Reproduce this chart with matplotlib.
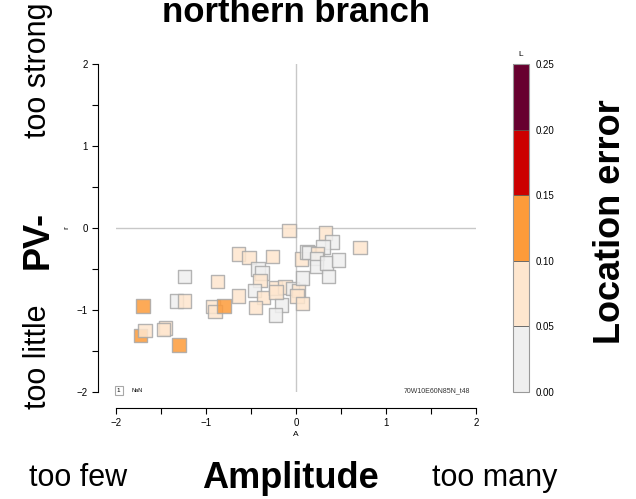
import numpy as np
import matplotlib.pyplot as plt
from matplotlib.colors import ListedColormap, BoundaryNorm
from matplotlib.cm import ScalarMappable
from matplotlib.ticker import MultipleLocator

plt.rcParams["font.family"] = ["Liberation Sans", "DejaVu Sans"]

# Data
amplitude = [
    -1.70, -1.73, -1.68, -1.45, -1.47, -1.30, -1.24, -1.33, -1.24, -0.87,
    -0.92, -0.90, -0.80, -0.64, -0.52, -0.26, -0.42, -0.38, -0.40, -0.46,
    -0.36, -0.64, -0.45, -0.16, -0.23, -0.23, -0.12, -0.22, -0.04, 0.03,
    0.01, 0.07, 0.07, 0.06, -0.08, 0.12, 0.33, 0.40, 0.30, 0.14,
    0.24, 0.23, 0.23, 0.34, 0.47, 0.36, 0.71,
]
pv = [
    -0.95, -1.31, -1.25, -1.22, -1.24, -1.43, -0.59, -0.89, -0.89, -0.65,
    -0.96, -1.02, -0.95, -0.32, -0.36, -0.35, -0.50, -0.55, -0.64, -0.76,
    -0.85, -0.83, -0.97, -0.94, -1.06, -0.73, -0.72, -0.78, -0.74, -0.76,
    -0.83, -0.92, -0.61, -0.38, -0.03, -0.29, -0.06, -0.17, -0.23, -0.30,
    -0.31, -0.37, -0.47, -0.43, -0.39, -0.59, -0.24,
]
location_error = [
    0.12, 0.12, 0.07, 0.07, 0.07, 0.12, 0.03, 0.03, 0.07, 0.07,
    0.07, 0.07, 0.12, 0.07, 0.07, 0.07, 0.03, 0.03, 0.07, 0.03,
    0.07, 0.07, 0.07, 0.03, 0.03, 0.07, 0.07, 0.07, 0.03, 0.07,
    0.07, 0.07, 0.03, 0.07, 0.07, 0.03, 0.07, 0.03, 0.03, 0.03,
    0.07, 0.03, 0.03, 0.03, 0.03, 0.03, 0.07,
]
bounds = [0.0, 0.05, 0.10, 0.15, 0.20, 0.25]
class_colors = ["#efefef", "#fee6ce", "#fd9b3a", "#cc0000", "#67002f"]

cmap = ListedColormap(class_colors)
norm = BoundaryNorm(bounds, cmap.N)

fig = plt.figure(figsize=(6.36, 4.99), dpi=100)
W, H = 636, 499
ax = fig.add_axes([116 / W, 1 - 392 / H, 360 / W, 328 / H])

# crosshair
ax.plot([-2, 2], [0, 0], color="#c8c8c8", lw=1, zorder=1)
ax.plot([0, 0], [-2, 2], color="#c8c8c8", lw=1, zorder=1)

ax.scatter(amplitude, pv, c=location_error, cmap=cmap, norm=norm, marker="s",
           s=95, edgecolors="#a8a8a8", linewidths=1, alpha=0.85, zorder=3)

ax.set_xlim(-2, 2)
ax.set_ylim(-2, 2)
for s in ["top", "right"]:
    ax.spines[s].set_visible(False)
ax.spines["left"].set_position(("outward", 13))
ax.spines["bottom"].set_position(("outward", 11.5))
ax.spines["left"].set_bounds(-2, 2)
ax.spines["bottom"].set_bounds(-2, 2)
for axis in [ax.xaxis, ax.yaxis]:
    axis.set_major_locator(MultipleLocator(1))
    axis.set_minor_locator(MultipleLocator(0.5))
ax.tick_params(which="both", direction="out", length=4, width=0.8, labelsize=7)
ax.set_xticks([-2, -1, 0, 1, 2])
ax.set_xticklabels(["\u22122", "\u22121", "0", "1", "2"])
ax.set_yticks([-2, -1, 0, 1, 2])
ax.set_yticklabels(["\u22122", "\u22121", "0", "1", "2"])
ax.set_xlabel("A", fontsize=6, labelpad=2)
ax.set_ylabel("r", fontsize=6, labelpad=4)

# NaN legend box and run tag
ax.text(-1.99, -1.98, "1", fontsize=4.5, ha="left", va="center",
        bbox=dict(boxstyle="square,pad=0.35", fc="white", ec="#a8a8a8", lw=0.8))
ax.text(-1.83, -1.98, "NaN", fontsize=4, ha="left", va="center")
ax.text(1.93, -1.98, "70W10E60N85N_t48", fontsize=5, ha="right", va="center",
        color="#333333")

# colorbar
cax = fig.add_axes([513 / W, 1 - 392 / H, 16 / W, 328 / H])
cb = fig.colorbar(ScalarMappable(norm=norm, cmap=cmap), cax=cax,
                  ticks=bounds, drawedges=True)
cb.outline.set_edgecolor("#999999")
cb.outline.set_linewidth(0.8)
cb.dividers.set_color("#555555")
cb.dividers.set_linewidth(0.6)
cax.tick_params(length=0, labelsize=7, pad=5)
cax.set_yticklabels(["0.00", "0.05", "0.10", "0.15", "0.20", "0.25"])
fig.text(521 / W, 1 - 55 / H, "L", fontsize=6, ha="center", va="center")

# big annotations
fig.text(296 / W, 1 - 12 / H, "northern branch", fontsize=25, fontweight="bold",
         ha="center", va="center")
fig.text(38 / W, 1 - 70 / H, "too strong", fontsize=22, rotation=90,
         ha="center", va="center")
fig.text(38 / W, 1 - 240 / H, "PV-", fontsize=26, fontweight="bold", rotation=90,
         ha="center", va="center")
fig.text(38 / W, 1 - 357 / H, "too little", fontsize=22, rotation=90,
         ha="center", va="center")
fig.text(78 / W, 1 - 478 / H, "too few", fontsize=22, ha="center", va="center")
fig.text(290 / W, 1 - 478 / H, "Amplitude", fontsize=26, fontweight="bold",
         ha="center", va="center")
fig.text(495 / W, 1 - 478 / H, "too many", fontsize=22, ha="center", va="center")
fig.text(610 / W, 1 - 222 / H, "Location error", fontsize=26, fontweight="bold",
         rotation=90, ha="center", va="center")

fig.savefig("out.png", dpi=100)
